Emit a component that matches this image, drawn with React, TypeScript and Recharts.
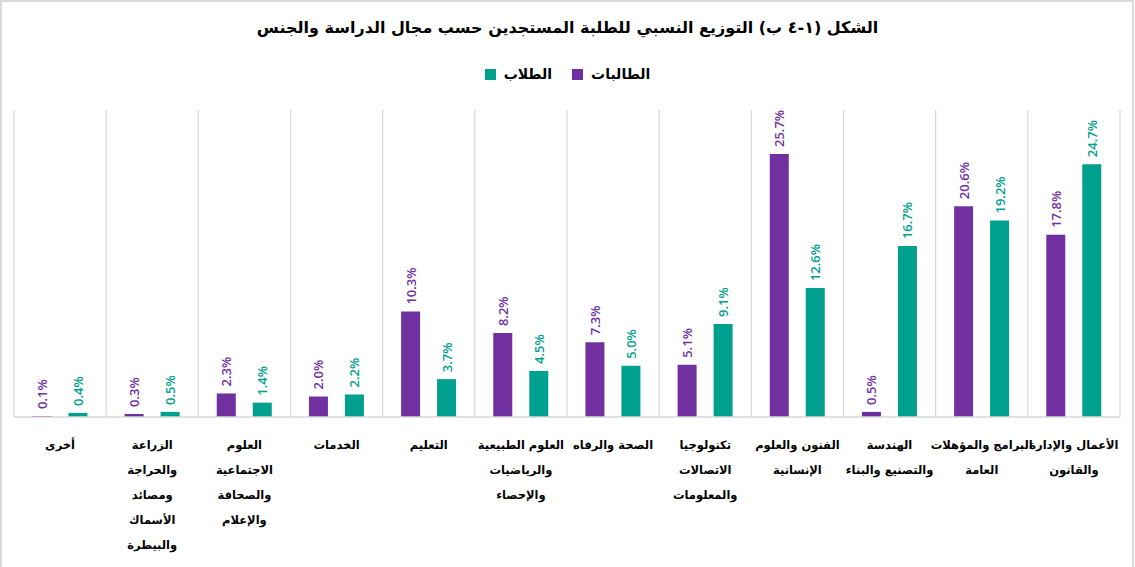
import { BarChart, Bar, XAxis, YAxis, CartesianGrid, LabelList } from "recharts";

const CATEGORY_LINES = [
  ["أخرى"],
  ["الزراعة", "والحراجة", "ومصائد", "الأسماك", "والبيطرة"],
  ["العلوم", "الاجتماعية", "والصحافة", "والإعلام"],
  ["الخدمات"],
  ["التعليم"],
  ["العلوم الطبيعية", "والرياضيات", "والإحصاء"],
  ["الصحة والرفاه"],
  ["تكنولوجيا", "الاتصالات", "والمعلومات"],
  ["الفنون والعلوم", "الإنسانية"],
  ["الهندسة", "والتصنيع والبناء"],
  ["البرامج والمؤهلات", "العامة"],
  ["الأعمال والإدارة", "والقانون"],
];

const FEMALE = [0.1, 0.3, 2.3, 2.0, 10.3, 8.2, 7.3, 5.1, 25.7, 0.5, 20.6, 17.8];
const MALE = [0.4, 0.5, 1.4, 2.2, 3.7, 4.5, 5.0, 9.1, 12.6, 16.7, 19.2, 24.7];

const FEMALE_NAME = "الطالبات";
const MALE_NAME = "الطلاب";
const TITLE = "الشكل (١-٤ ب) التوزيع النسبي للطلبة المستجدين حسب مجال الدراسة والجنس";

const PURPLE = "#7030A0";
const TEAL = "#00A08F";
const ARABIC_FONT = "'DejaVu Sans', sans-serif";

const data = CATEGORY_LINES.map((lines, i) => ({
  name: lines.join(" "),
  female: FEMALE[i],
  male: MALE[i],
}));

function CategoryTick(props: any) {
  const { x, y, payload } = props;
  const lines = CATEGORY_LINES[payload.index] || [payload.value];
  return (
    <text
      x={x}
      y={y + 24}
      textAnchor="middle"
      fontFamily={ARABIC_FONT}
      fontWeight="bold"
      fontSize={11.5}
      fill="#000"
      direction="rtl"
    >
      {lines.map((l, i) => (
        <tspan key={i} x={x} dy={i === 0 ? 0 : 25}>
          {l}
        </tspan>
      ))}
    </text>
  );
}

const makeValueLabel = (color: string) => (props: any) => {
  const { x, y, width, value } = props;
  const cx = x + width / 2;
  return (
    <text
      transform={`translate(${cx}, ${y - 7}) rotate(-90)`}
      textAnchor="start"
      dominantBaseline="central"
      fontFamily="'Open Sans', sans-serif"
      fontWeight={600}
      fontSize={13}
      fill={color}
    >
      {value.toFixed(1)}%
    </text>
  );
};

export default function App() {
  return (
    <div
      style={{
        position: "absolute",
        left: 0,
        top: 0,
        width: 1135,
        height: 567,
        overflow: "hidden",
        background: "#fff",
      }}
    >
      <style>{"body{margin:0}"}</style>
      <div
        style={{
          position: "absolute",
          left: 0,
          top: 0,
          width: 1134,
          height: 600,
          border: "2px solid #d9d9d9",
          boxSizing: "border-box",
        }}
      />
      <div
        dir="rtl"
        style={{
          position: "absolute",
          top: 18,
          left: 0,
          width: 1135,
          textAlign: "center",
          fontFamily: ARABIC_FONT,
          fontWeight: "bold",
          fontSize: 16,
          color: "#000",
        }}
      >
        {TITLE}
      </div>
      <div
        dir="rtl"
        style={{
          position: "absolute",
          top: 66,
          left: 0,
          width: 1135,
          display: "flex",
          justifyContent: "center",
          gap: 20,
          fontFamily: ARABIC_FONT,
          fontWeight: "bold",
          fontSize: 14,
          color: "#000",
        }}
      >
        <span style={{ display: "flex", alignItems: "center", gap: 8 }}>
          <span>{FEMALE_NAME}</span>
          <span style={{ width: 11, height: 11, background: PURPLE }} />
        </span>
        <span style={{ display: "flex", alignItems: "center", gap: 8 }}>
          <span>{MALE_NAME}</span>
          <span style={{ width: 11, height: 11, background: TEAL }} />
        </span>
      </div>
      <div style={{ position: "absolute", left: 0, top: 0 }}>
        <BarChart
          width={1135}
          height={567}
          data={data}
          margin={{ top: 110, right: 15, bottom: 0, left: 14 }}
          barCategoryGap="20%"
          barGap={17}
        >
          <CartesianGrid
            horizontal={false}
            stroke="#d9d9d9"
            strokeWidth={1.2}
            verticalCoordinatesGenerator={({ offset }: any) =>
              CATEGORY_LINES.map((_, i) => offset.left + (i * offset.width) / CATEGORY_LINES.length).concat(
                offset.left + offset.width
              )
            }
          />
          <XAxis
            dataKey="name"
            interval={0}
            height={150}
            tickLine={false}
            axisLine={{ stroke: "#d9d9d9", strokeWidth: 1.5 }}
            tick={<CategoryTick />}
          />
          <YAxis hide domain={[0, 30]} />
          <Bar dataKey="female" name={FEMALE_NAME} fill={PURPLE} isAnimationActive={false}>
            <LabelList dataKey="female" content={makeValueLabel(PURPLE)} />
          </Bar>
          <Bar dataKey="male" name={MALE_NAME} fill={TEAL} isAnimationActive={false}>
            <LabelList dataKey="male" content={makeValueLabel(TEAL)} />
          </Bar>
        </BarChart>
      </div>
    </div>
  );
}
